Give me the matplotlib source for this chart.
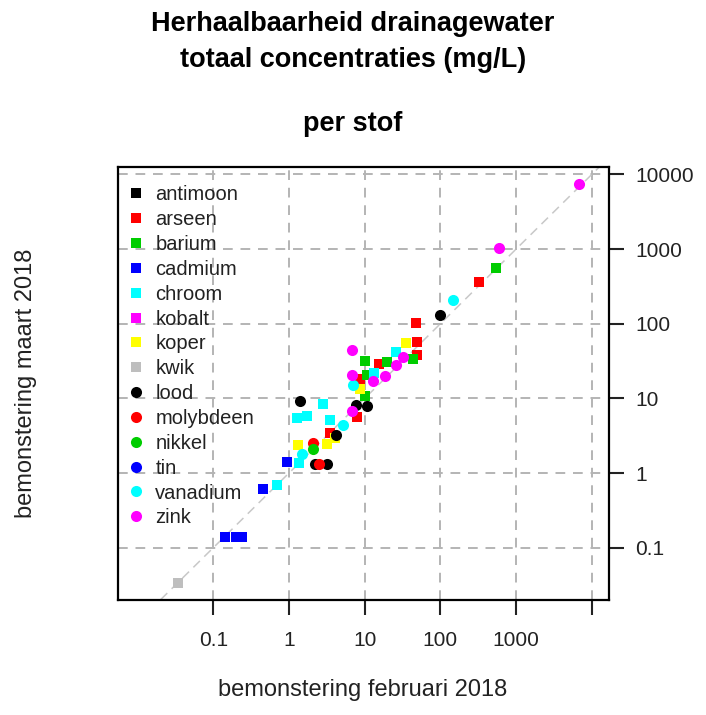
import matplotlib
matplotlib.use("Agg")
import matplotlib.pyplot as plt
from matplotlib.lines import Line2D

plt.rcParams["font.family"] = ["Liberation Sans", "DejaVu Sans"]

# ---------------------------------------------------------------------------
# Data (februari, maart) per stof
# ---------------------------------------------------------------------------

stoffen = ["antimoon", "arseen", "barium", "cadmium", "chroom", "kobalt",
           "koper", "kwik", "lood", "molybdeen", "nikkel", "tin",
           "vanadium", "zink"]
kleuren = ["black", "#ff0000", "#00cd00", "#0000ff", "#00ffff", "#ff00ff",
           "#ffff00", "#bebebe", "black", "#ff0000", "#00cd00", "#0000ff",
           "#00ffff", "#ff00ff"]
markers = ["s"] * 8 + ["o"] * 6

feb = {
    "antimoon": [],
    "arseen": [47.7, 48.6, 48.6, 15.5, 8.67, 8.0, 3.48, 324],
    "barium": [43.9, 10.1, 19.5, 10.6, 10.1, 542],
    "cadmium": [0.95, 0.45, 0.143, 0.2, 0.24],
    "chroom": [25.7, 13.3, 2.84, 1.26, 1.71, 3.48, 1.37, 0.69],
    "kobalt": [],
    "koper": [34.8, 8.67, 4.05, 3.2, 1.33],
    "kwik": [0.0345],
    "lood": [99, 7.67, 10.8, 1.4, 4.18, 2.2, 3.2],
    "molybdeen": [2.1, 2.5],
    "nikkel": [2.06],
    "tin": [],
    "vanadium": [148, 7.07, 5.21, 1.47],
    "zink": [6840, 594, 32.4, 25.7, 6.73, 18.5, 13, 6.73, 6.73],
}
maart = {
    "antimoon": [],
    "arseen": [101, 56.4, 38.2, 28.6, 18.2, 5.6, 3.43, 365],
    "barium": [33.4, 32, 31, 20.6, 10.6, 550],
    "cadmium": [1.39, 0.61, 0.14, 0.14, 0.14],
    "chroom": [42.2, 22.1, 8.36, 5.44, 5.83, 5.16, 1.36, 0.70],
    "kobalt": [],
    "koper": [54.7, 13.3, 2.94, 2.46, 2.34],
    "kwik": [0.034],
    "lood": [131, 8.19, 7.94, 9.35, 3.25, 1.32, 1.32],
    "molybdeen": [2.52, 1.32],
    "nikkel": [2.1],
    "tin": [],
    "vanadium": [207, 15.1, 4.43, 1.81],
    "zink": [7380, 1019, 35.5, 28, 44.5, 20, 17.1, 20.6, 6.87],
}

ticks = [0.1, 1, 10, 100, 1000, 10000]
x_ticklabels = ["0.1", "1", "10", "100", "1000", ""]
y_ticklabels = ["0.1", "1", "10", "100", "1000", "10000"]

# ---------------------------------------------------------------------------
# Plot
# ---------------------------------------------------------------------------

fig = plt.figure(figsize=(7.06, 7.15), dpi=100)
ax = fig.add_axes([0.1671, 0.1615, 0.6955, 0.6045])
ax.set_xscale("log")
ax.set_yscale("log")
ax.set_xlim(10 ** -2.259, 10 ** 4.227)
ax.set_ylim(10 ** -1.694, 10 ** 4.095)

for t in ticks:
    ax.axvline(t, color="#b4b4b4", lw=1.4, ls=(0, (5, 4)), zorder=0)
    ax.axhline(t, color="#b4b4b4", lw=1.4, ls=(0, (5, 4)), zorder=0)
ax.axline((1, 1), (10, 10), color="#c8c8c8", lw=1.1, ls=(0, (6, 4)), zorder=1)

for naam, kleur, m in zip(stoffen, kleuren, markers):
    ax.plot(feb[naam], maart[naam], ls="none", marker=m, color=kleur,
            markersize=7.2 if m == "s" else 8, markeredgewidth=0, zorder=3)

ax.set_xticks(ticks)
ax.set_xticklabels(x_ticklabels)
ax.set_yticks(ticks)
ax.set_yticklabels(y_ticklabels)
ax.minorticks_off()
ax.yaxis.tick_right()
ax.tick_params(axis="both", direction="out", length=11, width=1.5,
               labelsize=15, color="#222222", labelcolor="#222222")
ax.tick_params(axis="x", pad=12)
ax.tick_params(axis="y", pad=8)
for s in ax.spines.values():
    s.set_linewidth(1.6)

handles = [Line2D([], [], ls="none", marker=m, color=c,
                  markersize=7.2 if m == "s" else 8, markeredgewidth=0)
           for c, m in zip(kleuren, markers)]
ax.legend(handles, stoffen, loc="upper left", frameon=False, fontsize=14.5,
          labelspacing=0.29, handlelength=0.6, handletextpad=0.65,
          borderaxespad=0.5, bbox_to_anchor=(-0.012, 1.0), labelcolor="#222222")

fig.text(0.5, 0.966, "Herhaalbaarheid drainagewater", ha="center", va="center",
         fontsize=19.5, fontweight="bold")
fig.text(0.5, 0.916, "totaal concentraties (mg/L)", ha="center", va="center",
         fontsize=19.5, fontweight="bold")
fig.text(0.5, 0.827, "per stof", ha="center", va="center",
         fontsize=19.5, fontweight="bold")
fig.text(0.514, 0.035, "bemonstering februari 2018", ha="center", va="center",
         fontsize=17, color="#222222")
fig.text(0.037, 0.464, "bemonstering maart 2018", ha="center", va="center",
         rotation=90, fontsize=17, color="#222222")

fig.savefig("out.png", dpi=100, facecolor="white")
